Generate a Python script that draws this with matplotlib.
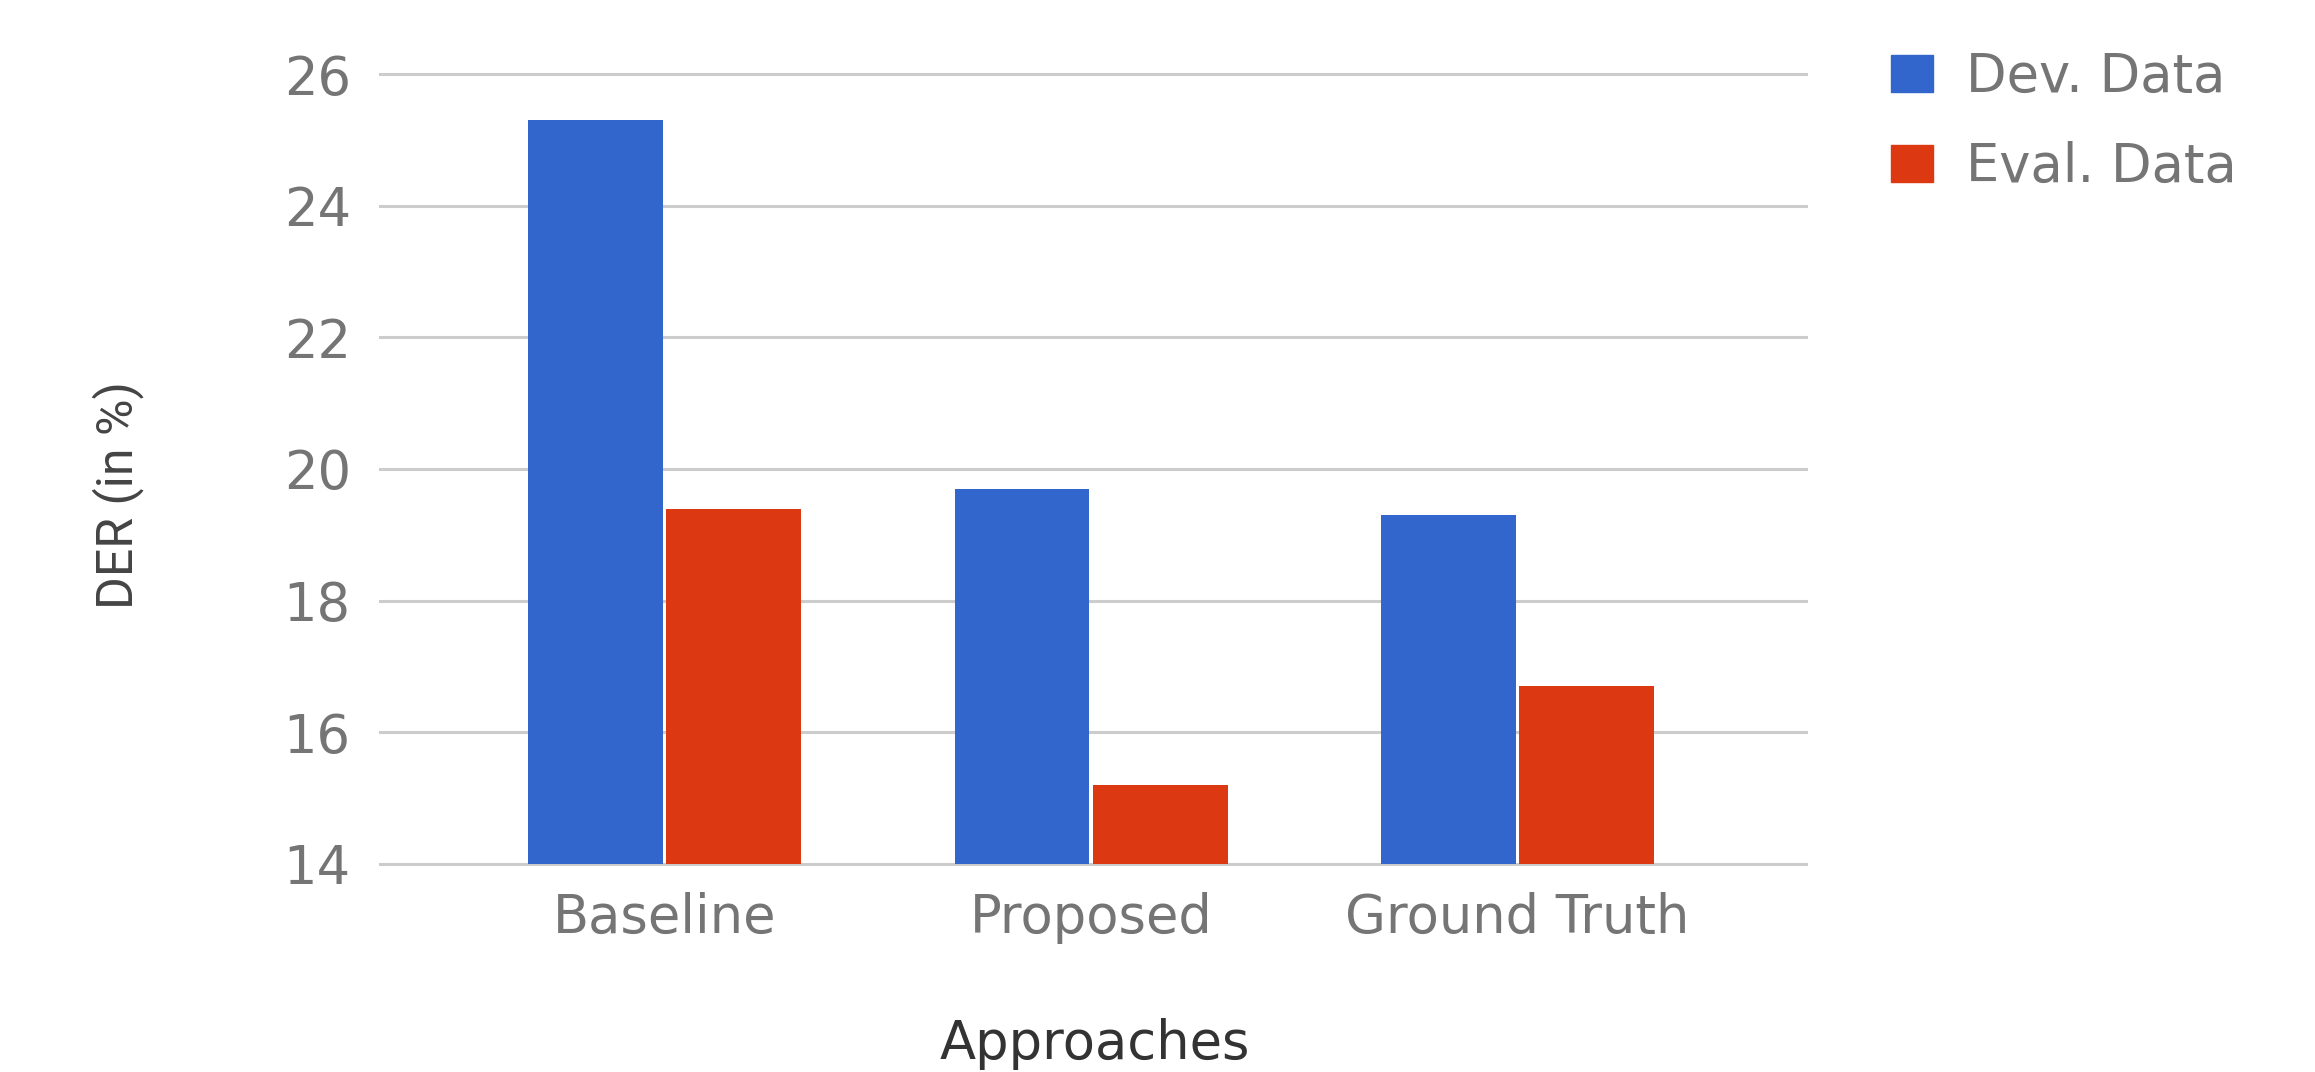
import numpy as np
import matplotlib
matplotlib.use('Agg')
import matplotlib.pyplot as plt
from matplotlib import font_manager
from matplotlib.patches import Patch

approaches = ['Baseline', 'Proposed', 'Ground Truth']
dev_der = [25.3, 19.7, 19.3]
eval_der = [19.4, 15.2, 16.7]
series_names = ['Dev. Data', 'Eval. Data']
y_ticks = [14, 16, 18, 20, 22, 24, 26]

BLUE = '#3366cc'
RED = '#dc3912'
TICK_GREY = '#757575'

W, H = 2315, 1072
fig = plt.figure(figsize=(W / 100, H / 100), dpi=100)
ax = fig.add_axes([380 / W, 1 - 864 / H, (1806 - 380) / W, (864 - 74) / H])

x = np.arange(len(approaches))
width = 0.316
off = 0.162
ax.bar(x - off, dev_der, width, bottom=0, color=BLUE, label=series_names[0], zorder=3)
ax.bar(x + off, eval_der, width, bottom=0, color=RED, label=series_names[1], zorder=3)

ax.set_ylim(14, 26)
ax.set_xlim(-0.667, 2.676)
ax.set_yticks(y_ticks)
ax.set_xticks(x)
ax.set_xticklabels(approaches)

ax.yaxis.grid(True, color='#cccccc', linewidth=2.2, zorder=0)
for gl in ax.get_ygridlines():
    gl.set_clip_on(False)
ax.set_axisbelow(True)
for s in ax.spines.values():
    s.set_visible(False)

ax.tick_params(axis='both', length=0, labelsize=38, labelcolor=TICK_GREY)
ax.tick_params(axis='y', pad=21)
ax.tick_params(axis='x', pad=20)
for lab in ax.get_xticklabels() + ax.get_yticklabels():
    lab.set_family('DejaVu Sans')

# x axis title right at the bottom edge
fig.text(1095 / W, 1 - 1059 / H, 'Approaches', ha='center', va='baseline',
         fontsize=38, color='#333333', family='DejaVu Sans')

# narrow y axis title
names = {f.name for f in font_manager.fontManager.ttflist}
if 'Liberation Sans Narrow' in names:
    yfam, ysize = 'Liberation Sans Narrow', 40
else:
    yfam, ysize = 'Roboto', 36
fig.text(118 / W, 1 - 495 / H, 'DER (in %)', rotation=90, ha='center', va='center',
         fontsize=ysize, color='#444444', family=yfam)

handles = [Patch(color=BLUE), Patch(color=RED)]
leg = ax.legend(handles, series_names, loc='upper left',
                bbox_to_anchor=(1891 / W, 1 - 51 / H), bbox_transform=fig.transFigure,
                frameon=False, prop={'family': 'DejaVu Sans', 'size': 38},
                handlelength=0.8, handleheight=0.72, handletextpad=0.62,
                labelspacing=0.72, borderpad=0, borderaxespad=0)
for t in leg.get_texts():
    t.set_color(TICK_GREY)

fig.savefig('out.png', dpi=100, facecolor='white')
